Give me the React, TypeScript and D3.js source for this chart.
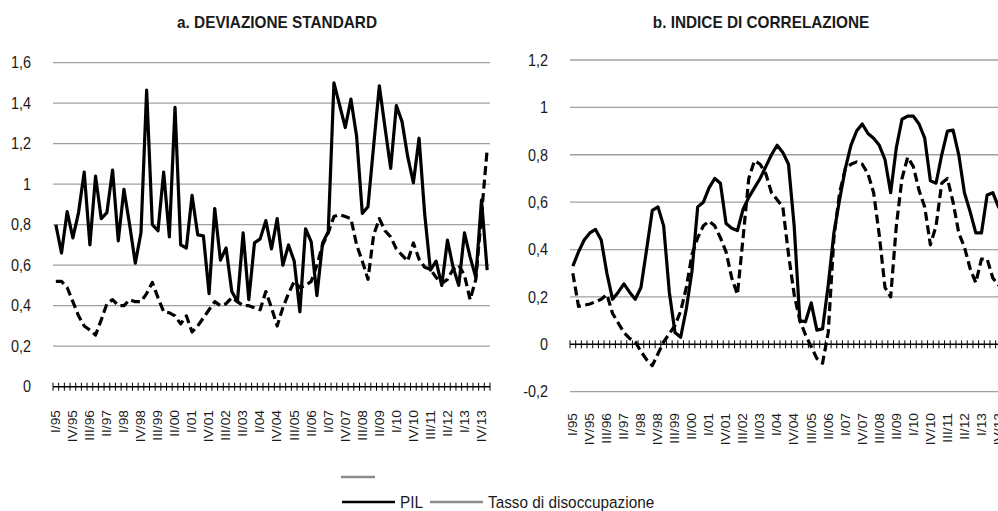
import React from "react";
import * as d3 from "d3";

// ---- Data ----
const romans = ["I", "II", "III", "IV"];
const years = ["95","96","97","98","99","00","01","02","03","04","05","06","07","08","09","10","11","12","13"];
const extraQuarters = ["I/14"];
const categories: string[] = [];
years.forEach((y) => romans.forEach((r) => categories.push(`${r}/${y}`)));
extraQuarters.forEach((q) => categories.push(q));

// a. Deviazione standard
const sdPil = [
  0.80, 0.66, 0.865, 0.735, 0.86, 1.06, 0.70, 1.04, 0.83, 0.86,
  1.07, 0.72, 0.975, 0.80, 0.61, 0.76, 1.465, 0.80, 0.77, 1.06,
  0.74, 1.38, 0.70, 0.685, 0.945, 0.75, 0.745, 0.46, 0.88, 0.625,
  0.685, 0.47, 0.42, 0.76, 0.43, 0.71, 0.73, 0.82, 0.68, 0.83,
  0.60, 0.70, 0.62, 0.37, 0.78, 0.715, 0.45, 0.71, 0.765, 1.50,
  1.39, 1.28, 1.42, 1.235, 0.856, 0.889, 1.19, 1.486, 1.28, 1.078,
  1.388, 1.309, 1.136, 1.007, 1.227, 0.85, 0.576, 0.62, 0.50, 0.724,
  0.59, 0.50, 0.76, 0.64, 0.54, 0.922, 0.576,
];
const sdUnemp = [
  0.52, 0.52, 0.49, 0.42, 0.35, 0.30, 0.28, 0.255, 0.33, 0.41,
  0.43, 0.40, 0.40, 0.43, 0.42, 0.42, 0.46, 0.515, 0.44, 0.37,
  0.365, 0.35, 0.31, 0.35, 0.27, 0.30, 0.34, 0.38, 0.42, 0.40,
  0.41, 0.44, 0.42, 0.40, 0.40, 0.39, 0.38, 0.47, 0.39, 0.30,
  0.39, 0.46, 0.52, 0.49, 0.50, 0.52, 0.60, 0.70, 0.76, 0.84,
  0.85, 0.84, 0.83, 0.70, 0.62, 0.53, 0.75, 0.83, 0.77, 0.74,
  0.68, 0.65, 0.62, 0.71, 0.63, 0.59, 0.58, 0.54, 0.51, 0.53,
  0.58, 0.60, 0.55, 0.43, 0.53, 0.85, 1.17,
];

// b. Indice di correlazione
const corrPil = [
  0.33, 0.39, 0.44, 0.47, 0.485, 0.44, 0.30, 0.19, 0.22, 0.255,
  0.22, 0.19, 0.24, 0.40, 0.565, 0.58, 0.50, 0.22, 0.05, 0.03,
  0.15, 0.31, 0.58, 0.60, 0.66, 0.70, 0.68, 0.51, 0.49, 0.48,
  0.57, 0.62, 0.66, 0.70, 0.75, 0.80, 0.84, 0.81, 0.76, 0.50,
  0.10, 0.095, 0.175, 0.06, 0.065, 0.25, 0.47, 0.61, 0.74, 0.84,
  0.90, 0.93, 0.89, 0.87, 0.84, 0.78, 0.64, 0.83, 0.95, 0.963,
  0.963, 0.93, 0.87, 0.69, 0.68, 0.80, 0.90, 0.904, 0.80, 0.64,
  0.56, 0.47, 0.47, 0.63, 0.64, 0.58, 0.55,
];
const corrUnemp = [
  0.30, 0.16, 0.165, 0.17, 0.18, 0.19, 0.21, 0.13, 0.09, 0.05,
  0.025, 0.01, -0.03, -0.065, -0.09, -0.04, 0.01, 0.045, 0.08, 0.14,
  0.24, 0.38, 0.45, 0.50, 0.52, 0.50, 0.45, 0.39, 0.28, 0.21,
  0.45, 0.70, 0.775, 0.76, 0.72, 0.64, 0.61, 0.58, 0.38, 0.21,
  0.10, 0.04, -0.01, -0.06, -0.08, 0.05, 0.45, 0.64, 0.74, 0.76,
  0.77, 0.76, 0.72, 0.64, 0.46, 0.24, 0.20, 0.50, 0.70, 0.79,
  0.75, 0.65, 0.58, 0.42, 0.50, 0.68, 0.70, 0.60, 0.47, 0.41,
  0.32, 0.26, 0.36, 0.36, 0.28, 0.25, 0.24,
];

const leftTicks = [0, 0.2, 0.4, 0.6, 0.8, 1, 1.2, 1.4, 1.6];
const rightTicks = [-0.2, 0, 0.2, 0.4, 0.6, 0.8, 1, 1.2];
const titles = ["a. DEVIAZIONE STANDARD", "b. INDICE DI CORRELAZIONE"];
const legendNames = ["PIL", "Tasso di disoccupazione"];

const FONT = "'Liberation Sans', Arial, sans-serif";
const TXT = "#1a1a1a";
const fmt = (v: number) => (Math.round(v * 10) / 10).toString().replace(".", ",");

type PanelProps = {
  x0: number; x1: number; yTop: number; yBottom: number;
  domain: [number, number]; ticks: number[]; labelRight: number;
  labelTop: number; title: string; titleX: number;
  solid: number[]; dashed: number[];
};

function Panel(p: PanelProps) {
  const xb = d3.scaleBand<string>().domain(categories).range([p.x0, p.x1]).paddingInner(0).paddingOuter(0);
  const bw = xb.bandwidth();
  const xc = (i: number) => (xb(categories[i]) as number) + bw / 2;
  const y = d3.scaleLinear().domain(p.domain).range([p.yBottom, p.yTop]);
  const line = d3.line<number>().x((_, i) => xc(i)).y((d) => y(d));
  const axisY = y(0);
  const tickXs = categories.map((c) => xb(c) as number).concat([p.x1]);
  return (
    <g>
      <text transform={`translate(${p.titleX},28) scale(0.93,1)`} textAnchor="middle" fontFamily={FONT}
        fontWeight="bold" fontSize={16.5} fill={TXT}>
        {p.title}
      </text>
      {p.ticks.filter((t) => t !== 0).map((t) => (
        <line key={"g" + t} x1={p.x0} x2={p.x1} y1={y(t)} y2={y(t)} stroke="#a0a0a0" strokeWidth={1.3} />
      ))}
      {p.ticks.map((t) => (
        <text key={"t" + t} transform={`translate(${p.labelRight},${y(t)}) scale(0.9,1)`} dy="0.36em"
          textAnchor="end" fontFamily={FONT} fontSize={16} fill={TXT}>
          {fmt(t)}
        </text>
      ))}
      <line x1={p.x0} x2={p.x1} y1={axisY} y2={axisY} stroke="#000" strokeWidth={1.5} />
      {tickXs.map((tx, k) => (
        <line key={"k" + k} x1={tx} x2={tx} y1={axisY - 4} y2={axisY + 4} stroke="#000" strokeWidth={1} />
      ))}
      {categories.map((c, i) =>
        i % 3 === 0 ? (
          <text key={"c" + i} transform={`translate(${xc(i)},${p.labelTop}) rotate(-90) scale(1.15,1)`} dy="0.36em"
            textAnchor="end" fontFamily={FONT} fontSize={12} fill={TXT}>
            {c}
          </text>
        ) : null
      )}
      <path d={line(p.dashed) || ""} fill="none" stroke="#000" strokeWidth={3.2} strokeDasharray="9 4.5" strokeLinejoin="round" />
      <path d={line(p.solid) || ""} fill="none" stroke="#000" strokeWidth={3.2} strokeLinejoin="round" />
    </g>
  );
}

export default function App() {
  return (
    <svg width={998} height={511} viewBox="0 0 998 511" style={{ position: "absolute", left: 0, top: 0, background: "#fff" }}>
      <rect x={0} y={0} width={998} height={511} fill="#fff" />
      <Panel x0={53} x1={490} yTop={62.7} yBottom={386.7} domain={[0, 1.6]} ticks={leftTicks} labelRight={31}
        labelTop={410} title={titles[0]} titleX={277} solid={sdPil} dashed={sdUnemp} />
      <Panel x0={570} x1={1007} yTop={60} yBottom={391.7} domain={[-0.2, 1.2]} ticks={rightTicks} labelRight={548}
        labelTop={413} title={titles[1]} titleX={761} solid={corrPil} dashed={corrUnemp} />
      {/* Legend */}
      <line x1={341} x2={375} y1={477} y2={477} stroke="#8c8c8c" strokeWidth={2.4} />
      <line x1={342} x2={395} y1={502} y2={502} stroke="#000" strokeWidth={2.7} />
      <text transform="translate(400,507.5) scale(0.93,1)" fontFamily={FONT} fontSize={16.5} fill={TXT}>{legendNames[0]}</text>
      <line x1={430} x2={483} y1={502} y2={502} stroke="#8c8c8c" strokeWidth={2.4} />
      <text transform="translate(488,507.5) scale(0.93,1)" fontFamily={FONT} fontSize={16.5} fill={TXT}>{legendNames[1]}</text>
    </svg>
  );
}
